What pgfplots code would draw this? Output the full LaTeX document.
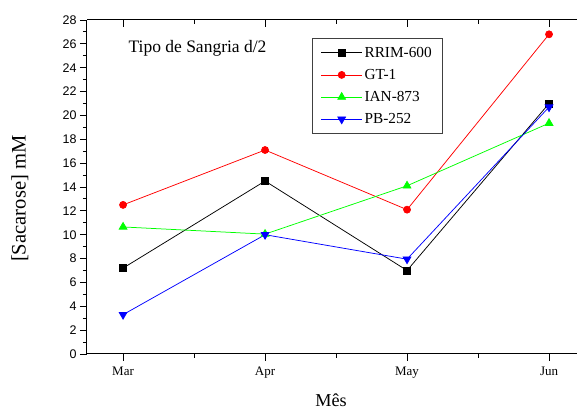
\documentclass[border=0pt]{standalone}
\usepackage{pgfplots}
\pgfplotsset{compat=1.18}
\usepackage{fontspec}
\setmainfont{Liberation Serif}
\newfontfamily\arial{Liberation Sans}
\begin{document}
\begin{tikzpicture}
  \pgfplotsset{
    common/.style={
      at={(0pt,0pt)}, anchor=south west,
      scale only axis, width=490pt, height=334pt,
      xmin=-0.254, xmax=3.197, ymin=0, ymax=28,
      xtick={0,1,2,3}, minor x tick num=1,
      major tick length=7pt, minor tick length=4pt,
      every tick/.style={black, line width=0.9pt},
      axis line style={line width=1pt},
    }
  }
  % top line with inward ticks
  \begin{axis}[common,
      axis x line*=top, axis y line=none,
      tick align=inside, xticklabels={}]
    \addplot[draw=none] coordinates {(0,0)};
  \end{axis}
  \begin{axis}[common,
      axis x line*=bottom, axis y line*=left,
      tick align=outside,
      ytick={0,2,...,28}, minor y tick num=1,
      xticklabels={Mar,Apr,May,Jun},
      x tick label style={font=\fontsize{13}{13}\selectfont, yshift=-2pt},
      y tick label style={font=\arial\fontsize{12.5}{12.5}\selectfont},
      /pgf/number format/assume math mode=true,
      xlabel={Mês}, ylabel={[Sacarose] mM},
      xlabel style={font=\fontsize{18.2}{18.2}\selectfont, at={(rel axis cs:0.498,-0.138)}, anchor=center},
      ylabel style={font=\fontsize{20.6}{20.6}\selectfont, at={(rel axis cs:-0.137,0.465)}, anchor=center, rotate=0},
      legend style={at={(rel axis cs:0.459,0.946)}, anchor=north west,
        draw=black!75, line width=0.8pt, font=\fontsize{15.3}{15.3}\selectfont,
        inner xsep=8.5pt, inner ysep=6.5pt, row sep=6.5pt, cells={anchor=west}},
      legend image code/.code={\draw[mark repeat=2, mark phase=2] plot coordinates {(0pt,0pt) (20.5pt,0pt) (41pt,0pt)};},
    ]
    \addplot[black, line width=0.75pt, mark=square*, mark size=3.5pt] coordinates {(0,7.2) (1,14.5) (2,7.0) (3,21.0)};
    \addlegendentry{RRIM-600}
    \addplot[red, line width=0.75pt, mark=*, mark size=3.5pt] coordinates {(0,12.5) (1,17.1) (2,12.1) (3,26.8)};
    \addlegendentry{GT-1}
    \addplot[green, line width=0.75pt, mark=triangle*, mark size=4.5pt] coordinates {(0,10.65) (1,10.05) (2,14.1) (3,19.35)};
    \addlegendentry{IAN-873}
    \addplot[blue, line width=0.75pt, mark=triangle*, mark options={rotate=180}, mark size=4.5pt] coordinates {(0,3.3) (1,10.0) (2,7.95) (3,20.7)};
    \addlegendentry{PB-252}
    \node[anchor=west, font=\fontsize{17.5}{17.5}\selectfont] at (rel axis cs:0.0776,0.916) {Tipo de Sangria d/2};
  \end{axis}
  \pgfresetboundingbox
  \path (-87pt,-57pt) rectangle (490pt,354pt);
\end{tikzpicture}
\end{document}
